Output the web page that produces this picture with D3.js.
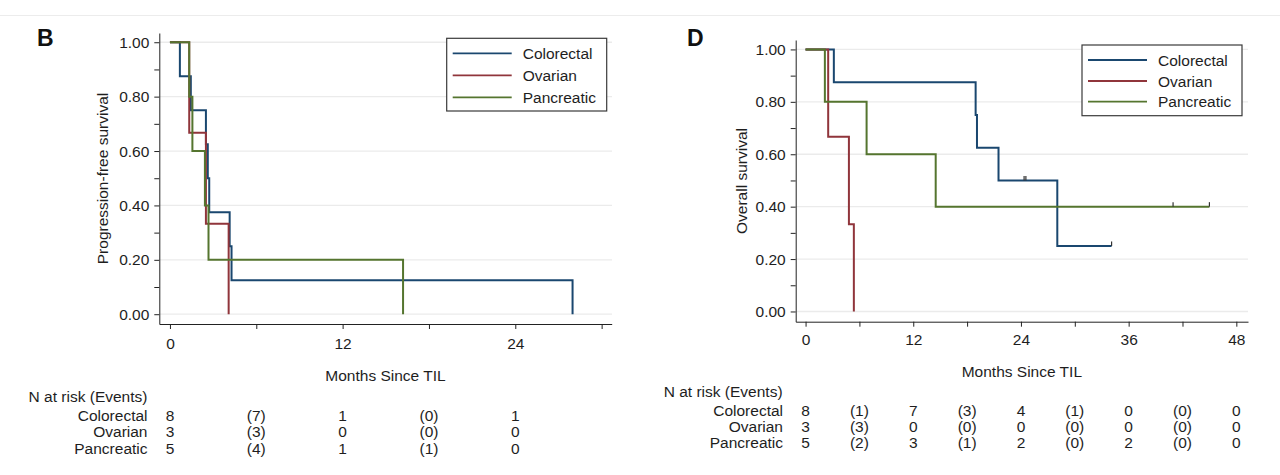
<!DOCTYPE html>
<html>
<head>
<meta charset="utf-8">
<script src="https://cdn.jsdelivr.net/npm/d3@7"></script>
<style>
  body { margin: 0; background: #fff; }
  svg text { font-family: "Liberation Sans", Arial, sans-serif; font-size: 15.5px; fill: #1e1e1e; }
  .panel-letter { font-weight: bold; font-size: 23px; fill: #111; }
</style>
</head>
<body>
<svg id="fig" width="1280" height="475"></svg>
<script>
// groups & colours
const groups = ["Colorectal", "Ovarian", "Pancreatic"];
const groupColors = ["#1a476f", "#90353b", "#55752f"];

// panel B: progression-free survival, [months, survival] after each step
const pfsColorectal = [[0, 1], [0.69, 0.875], [1.45, 0.75], [2.5, 0.625], [2.63, 0.5], [2.73, 0.375], [4.15, 0.25], [4.28, 0.125], [27.98, 0]];
const pfsOvarian = [[0, 1], [1.34, 0.667], [2.5, 0.333], [4.08, 0]];
const pfsPancreatic = [[0, 1], [1.34, 0.8], [1.56, 0.6], [2.43, 0.4], [2.68, 0.2], [16.2, 0]];
const pfsCensored = [[], [], []];

// panel D: overall survival
const osColorectal = [[0, 1], [3.15, 0.875], [18.95, 0.75], [19.1, 0.625], [21.5, 0.5], [28.05, 0.25], [34.1, 0.25]];
const osOvarian = [[0, 1], [2.52, 0.667], [4.83, 0.333], [5.38, 0]];
const osPancreatic = [[0, 1], [2.15, 0.8], [6.8, 0.6], [14.5, 0.4], [45.0, 0.4]];
const osCensored = [[24.35, 24.55, 34.1], [], [40.95, 45.0]];

// axis ticks
const survTicks = [0, 0.2, 0.4, 0.6, 0.8, 1.0];
const survMinor = [0.1, 0.3, 0.5, 0.7, 0.9];
const pfsMonthTicks = [0, 12, 24];
const pfsMonthMinor = [6, 18, 30];
const osMonthTicks = [0, 12, 24, 36, 48];
const osMonthMinor = [6, 18, 30, 42];

// number at risk (events) tables
const pfsRiskTimes = [0, 6, 12, 18, 24];
const pfsRiskColorectal = ["8", "(7)", "1", "(0)", "1"];
const pfsRiskOvarian = ["3", "(3)", "0", "(0)", "0"];
const pfsRiskPancreatic = ["5", "(4)", "1", "(1)", "0"];

const osRiskTimes = [0, 6, 12, 18, 24, 30, 36, 42, 48];
const osRiskColorectal = ["8", "(1)", "7", "(3)", "4", "(1)", "0", "(0)", "0"];
const osRiskOvarian = ["3", "(3)", "0", "(0)", "0", "(0)", "0", "(0)", "0"];
const osRiskPancreatic = ["5", "(2)", "3", "(1)", "2", "(0)", "2", "(0)", "0"];

const svg = d3.select("#fig");

// faint figure frame lines
svg.append("line").attr("x1", 0).attr("x2", 1280).attr("y1", 15.5).attr("y2", 15.5)
  .attr("stroke", "#ececec").attr("stroke-width", 1);

function survAt(steps, t) {
  let s = steps[0][1];
  steps.forEach(p => { if (p[0] <= t) s = p[1]; });
  return s;
}

/**
 * ONE KM PANEL
 */
function drawPanel(p) {
  const g = svg.append("g");
  const x = d3.scaleLinear().domain(p.xDomain).range(p.xRange);
  const y = d3.scaleLinear().domain(p.yDomain).range(p.yRange);
  const axisY = p.yRange[0];
  const axisX = p.xRange[0];

  // gridlines
  g.append("g").selectAll("line").data(survTicks).enter().append("line")
    .attr("x1", p.xRange[0]).attr("x2", p.gridEnd)
    .attr("y1", d => y(d)).attr("y2", d => y(d))
    .attr("stroke", "#ebebeb").attr("stroke-width", 1.3);

  // y axis
  g.append("g").attr("transform", `translate(${axisX},0)`).attr("color", "#222")
    .call(d3.axisLeft(y).tickValues(survTicks).tickFormat(d3.format(".2f")).tickSize(5).tickPadding(5).tickSizeOuter(0));
  g.append("g").attr("transform", `translate(${axisX},0)`).attr("color", "#222")
    .call(d3.axisLeft(y).tickValues(survMinor).tickFormat("").tickSize(5).tickSizeOuter(0))
    .select(".domain").remove();

  // x axis
  g.append("g").attr("transform", `translate(0,${axisY})`).attr("color", "#222")
    .call(d3.axisBottom(x).tickValues(p.xTicks).tickSize(5).tickPadding(p.xPad).tickSizeOuter(0));
  g.append("g").attr("transform", `translate(0,${axisY})`).attr("color", "#222")
    .call(d3.axisBottom(x).tickValues(p.xMinor).tickFormat("").tickSize(5).tickSizeOuter(0))
    .select(".domain").remove();

  // curves
  const line = d3.line().x(d => x(d[0])).y(d => y(d[1])).curve(d3.curveStepAfter);
  p.curves.forEach((c, i) => {
    g.append("path").datum(c).attr("d", line)
      .attr("fill", "none").attr("stroke", groupColors[i]).attr("stroke-width", 2);
    p.censored[i].forEach(t => {
      g.append("line")
        .attr("x1", x(t)).attr("x2", x(t))
        .attr("y1", y(survAt(c, t))).attr("y2", y(survAt(c, t)) - 4.5)
        .attr("stroke", "#333").attr("stroke-width", 1.2);
    });
  });

  // legend
  const lg = g.append("g");
  lg.append("rect").attr("x", p.legend.x).attr("y", p.legend.y)
    .attr("width", p.legend.w).attr("height", p.legend.h)
    .attr("fill", "#fff").attr("stroke", "#3a3a3a").attr("stroke-width", 1.2);
  groups.forEach((name, i) => {
    const ly = p.legend.rows[i];
    lg.append("line").attr("x1", p.legend.x + 6).attr("x2", p.legend.x + 65)
      .attr("y1", ly).attr("y2", ly).attr("stroke", groupColors[i]).attr("stroke-width", 1.8);
    lg.append("text").attr("x", p.legend.x + 76).attr("y", ly).attr("dy", "0.36em").text(name);
  });

  // titles
  g.append("text").attr("transform", `translate(${p.yTitleX},${p.yTitleY}) rotate(-90)`)
    .attr("text-anchor", "middle").text(p.yTitle);
  g.append("text").attr("x", (p.xRange[0] + p.xRange[1]) / 2).attr("y", p.xTitleY)
    .attr("text-anchor", "middle").text("Months Since TIL");
  g.append("text").attr("class", "panel-letter").attr("x", p.letterX).attr("y", 46).text(p.letter);

  // risk table
  g.append("text").attr("x", p.riskHeadX).attr("y", p.riskHeadY).text("N at risk (Events)");
  p.riskRows.forEach((row, i) => {
    g.append("text").attr("x", p.riskLabelX).attr("y", p.riskY[i])
      .attr("text-anchor", "end").text(groups[i]);
    g.append("g").selectAll("text").data(row).enter().append("text")
      .attr("x", (d, j) => x(p.riskTimes[j])).attr("y", p.riskY[i])
      .attr("text-anchor", "middle").text(d => d);
  });
}

drawPanel({
  letter: "B", letterX: 37,
  xDomain: [-0.74, 30.7], xRange: [159.3, 611.7], gridEnd: 612,
  yDomain: [-0.036, 1.034], yRange: [324, 33],
  xTicks: pfsMonthTicks, xMinor: pfsMonthMinor, xPad: 9,
  curves: [pfsColorectal, pfsOvarian, pfsPancreatic], censored: pfsCensored,
  legend: { x: 446.7, y: 38.3, w: 160, h: 72.7, rows: [53.3, 75.3, 97.3] },
  yTitle: "Progression-free survival", yTitleX: 108, yTitleY: 178.5,
  xTitleY: 380.7,
  riskHeadX: 28.6, riskHeadY: 401.7, riskLabelX: 147.5, riskY: [420.7, 437.3, 454.3],
  riskTimes: pfsRiskTimes, riskRows: [pfsRiskColorectal, pfsRiskOvarian, pfsRiskPancreatic]
});

drawPanel({
  letter: "D", letterX: 687,
  xDomain: [-1.1, 49.3], xRange: [795.7, 1248], gridEnd: 1248,
  yDomain: [-0.039, 1.036], yRange: [321.7, 40],
  xTicks: osMonthTicks, xMinor: osMonthMinor, xPad: 7.3,
  curves: [osColorectal, osOvarian, osPancreatic], censored: osCensored,
  legend: { x: 1082, y: 45, w: 160, h: 70.7, rows: [60, 81, 101.7] },
  yTitle: "Overall survival", yTitleX: 746.5, yTitleY: 181,
  xTitleY: 376.7,
  riskHeadX: 663.7, riskHeadY: 396.7, riskLabelX: 783, riskY: [416, 431.5, 448],
  riskTimes: osRiskTimes, riskRows: [osRiskColorectal, osRiskOvarian, osRiskPancreatic]
});
</script>
</body>
</html>
